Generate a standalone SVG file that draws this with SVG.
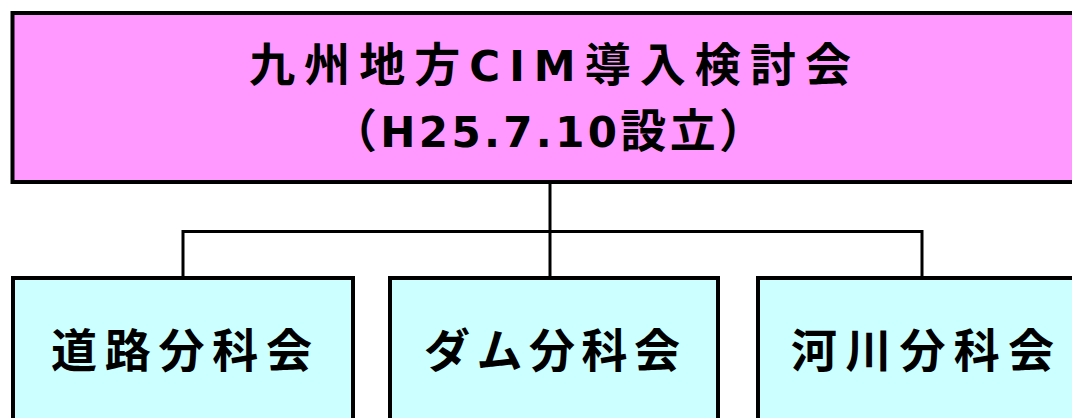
<svg xmlns="http://www.w3.org/2000/svg" width="1072" height="418" viewBox="0 0 1072 418">
<style>
.top{fill:#FF99FF;stroke:#000;stroke-width:4}
.sub{fill:#CCFFFF;stroke:#000;stroke-width:4}
.conn{fill:none;stroke:#000;stroke-width:3}
text{font-family:"DejaVu Sans","Noto Sans CJK JP",sans-serif;font-weight:bold;font-size:46px;fill:#000}
.lat{font-size:42px}
</style>
<rect width="1072" height="418" fill="#fff"/>
<g id="connectors">
<path class="conn" d="M550,182 V278"/>
<path class="conn" d="M183,278 V231.5 H922 V278"/>
</g>
<g id="root">
<rect class="top" x="12.5" y="13" width="1080" height="169"/>
<text x="249" y="81" textLength="602" lengthAdjust="spacing">九州地方<tspan class="lat">CIM</tspan>導入検討会</text>
<text x="331" y="147" textLength="434" lengthAdjust="spacing">（<tspan class="lat">H25.7.10</tspan>設立）</text>
</g>
<g id="road">
<rect class="sub" x="13" y="278" width="340" height="160"/>
<text x="51" y="367" textLength="261" lengthAdjust="spacing">道路分科会</text>
</g>
<g id="dam">
<rect class="sub" x="390" y="278" width="328" height="160"/>
<text x="424" y="367" textLength="256" lengthAdjust="spacing">ダム分科会</text>
</g>
<g id="river">
<rect class="sub" x="758" y="278" width="340" height="160"/>
<text x="791" y="367" textLength="263" lengthAdjust="spacing">河川分科会</text>
</g>
</svg>
